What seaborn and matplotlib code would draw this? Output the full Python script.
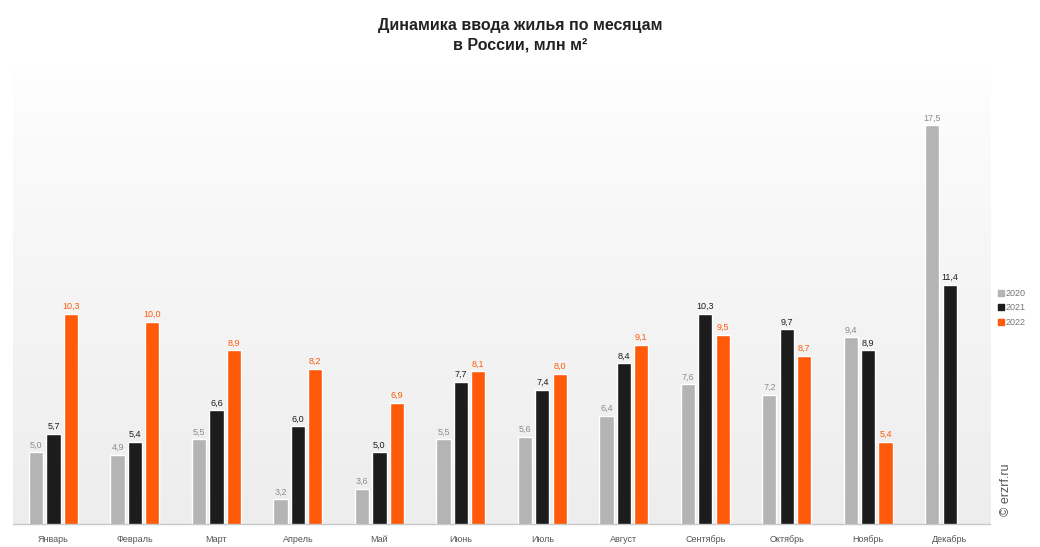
import numpy as np
import pandas as pd
import matplotlib
matplotlib.use("Agg")
import matplotlib.pyplot as plt
from matplotlib.lines import Line2D
import seaborn as sns

months = ["Январь", "Февраль", "Март", "Апрель", "Май", "Июнь",
          "Июль", "Август", "Сентябрь", "Октябрь", "Ноябрь", "Декабрь"]
years = ["2020", "2021", "2022"]
v2020 = [5.0, 4.9, 5.5, 3.2, 3.6, 5.5, 5.6, 6.4, 7.6, 7.2, 9.4, 17.5]
v2021 = [5.7, 5.4, 6.6, 6.0, 5.0, 7.7, 7.4, 8.4, 10.3, 9.7, 8.9, 11.4]
v2022 = [10.3, 10.0, 8.9, 8.2, 6.9, 8.1, 8.0, 9.1, 9.5, 8.7, 5.4, np.nan]

title_1 = "Динамика ввода жилья по месяцам"
title_2 = "в России, млн м²"
watermark = "© erzrf.ru"

colors = {"2020": "#b4b4b4", "2021": "#1c1c1c", "2022": "#fe5a0a"}
label_colors = {"2020": "#8c8c8c", "2021": "#1c1c1c", "2022": "#fe5a0a"}

rows = []
for y, vals in zip(years, [v2020, v2021, v2022]):
    for m, v in zip(months, vals):
        if not np.isnan(v):
            rows.append({"month": m, "year": y, "value": v})
df = pd.DataFrame(rows)

sns.set_theme(style="white")
plt.rcParams["font.family"] = ["Liberation Sans", "DejaVu Sans"]

fig = plt.figure(figsize=(10.4, 5.47), dpi=100)
pos = [0.0123, 0.042, 0.940, 0.839]

# background gradient
bg = fig.add_axes(pos, zorder=0)
top_c = np.array([1.0, 1.0, 1.0])
bot_c = np.array([0.93, 0.93, 0.93])
img = np.linspace(0, 1, 256)[:, None, None] ** 0.8 * (bot_c - top_c) + top_c
img = np.repeat(img, 2, axis=1)
bg.imshow(img, aspect="auto", extent=[0, 1, 0, 1], origin="upper")
bg.axis("off")

ax = fig.add_axes(pos, zorder=1)
ax.set_facecolor("none")
sns.barplot(data=df, x="month", y="value", hue="year", order=months,
            hue_order=years, palette=colors, width=0.64, gap=0.18,
            saturation=1, ax=ax, legend=False, errorbar=None)

for cont, y in zip(ax.containers, years):
    labels = [f"{v:.1f}".replace(".", ",") for v in cont.datavalues]
    ax.bar_label(cont, labels=labels, padding=2, fontsize=6.5,
                 color=label_colors[y])

ax.set_xlim(-0.5, 11.5)
ax.set_ylim(2.26, 19.8)
ax.set_xlabel("")
ax.set_ylabel("")
ax.set_yticks([])
ax.tick_params(axis="x", length=0, labelsize=6.5, labelcolor="#555555", pad=8)
for s in ["top", "left", "right"]:
    ax.spines[s].set_visible(False)
ax.spines["bottom"].set_color("#c8c8c8")
ax.spines["bottom"].set_linewidth(1.0)

fig.text(0.5, 0.954, title_1, ha="center", va="center",
         fontsize=11.5, fontweight="bold", color="#222222")
fig.text(0.5, 0.918, title_2, ha="center", va="center",
         fontsize=11.5, fontweight="bold", color="#222222")

handles = [Line2D([0], [0], marker="s", linestyle="none", markersize=4,
                  markerfacecolor=colors[y], markeredgecolor=colors[y],
                  label=y) for y in years]
leg = fig.legend(handles=handles, loc="center left",
                 bbox_to_anchor=(0.955, 0.437), frameon=False, fontsize=6.5,
                 handletextpad=0.1, labelspacing=0.6, borderpad=0,
                 handlelength=0.8)
for t in leg.get_texts():
    t.set_color("#777777")

fig.text(0.967, 0.104, watermark, rotation=90, ha="center", va="center",
         fontsize=9, color="#555555")

fig.savefig("out.png", dpi=100)
